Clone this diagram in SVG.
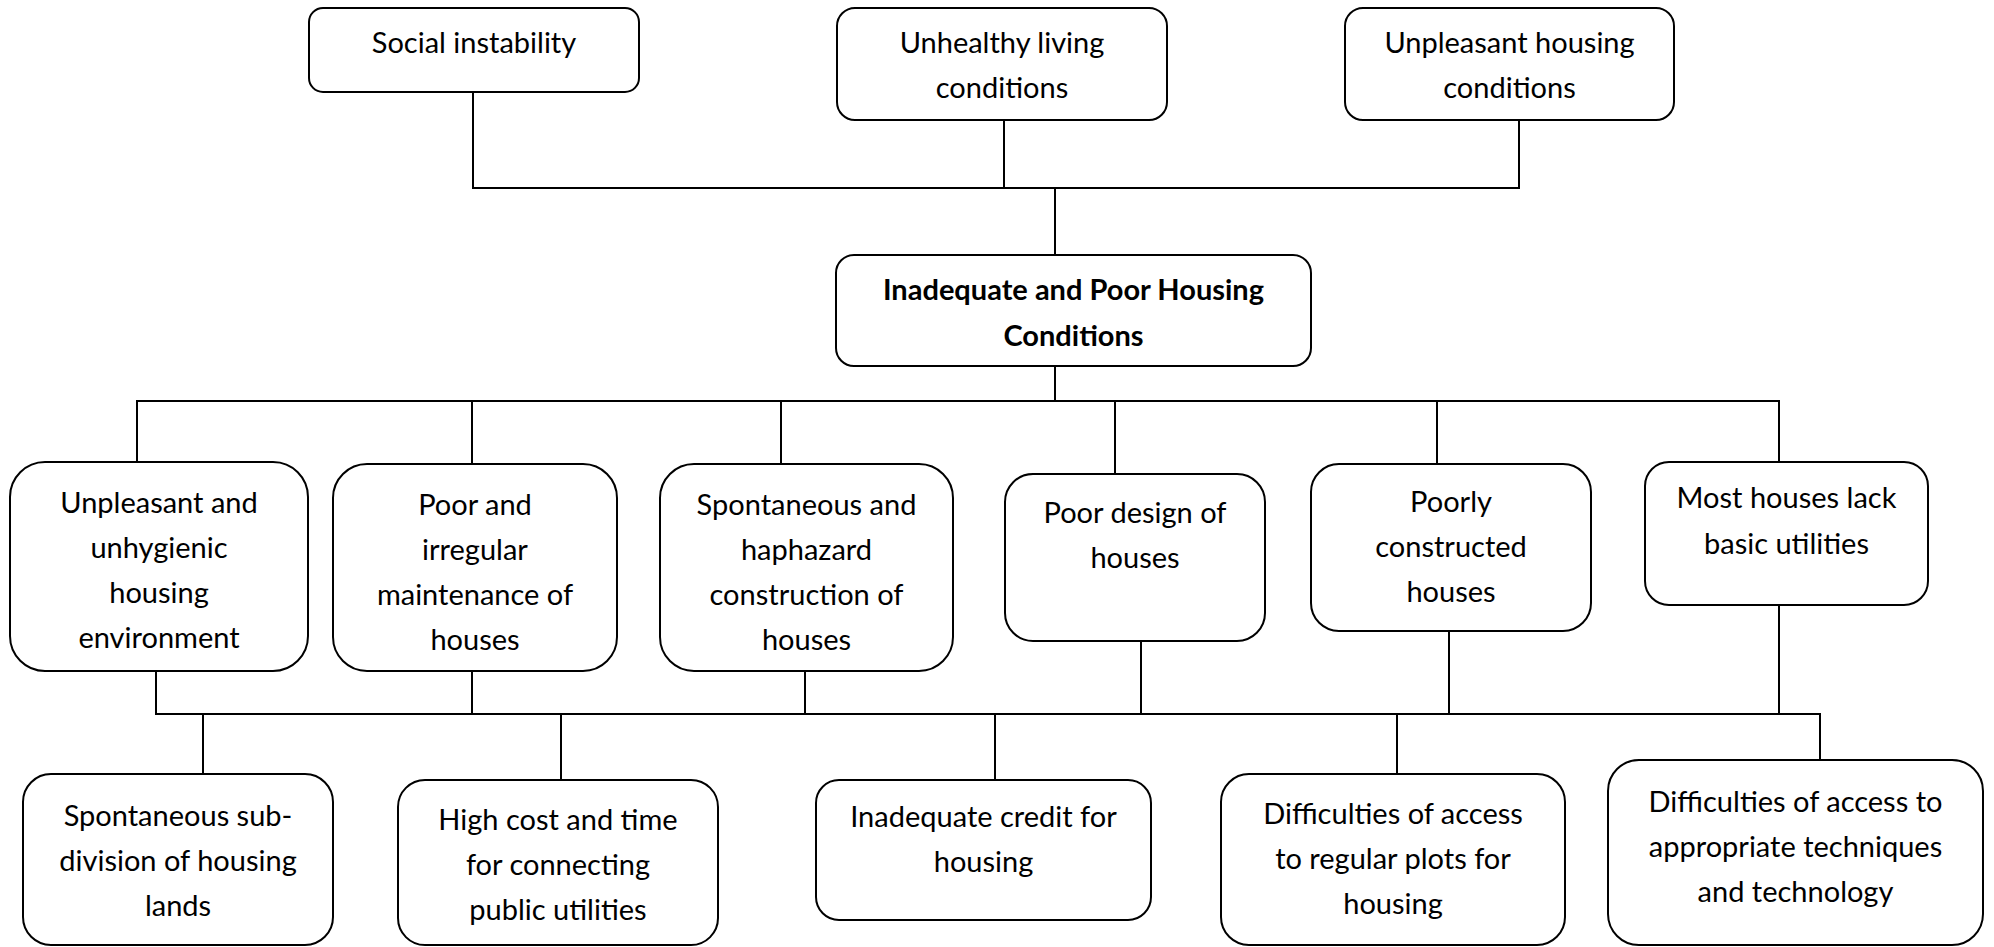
<svg xmlns="http://www.w3.org/2000/svg" width="1994" height="947" viewBox="0 0 1994 947">
<style>
.box{fill:#fff;stroke:#000;stroke-width:2}
.t{font-family:Lato,"Liberation Sans",sans-serif;font-size:29px;fill:#000;text-anchor:middle}
.b{font-weight:bold}
.c line{stroke:#000;stroke-width:2}
</style>
<rect width="1994" height="947" fill="#fff"/>
<g class="c" id="connectors">
<line x1="473" y1="92" x2="473" y2="188"/>
<line x1="1004" y1="120" x2="1004" y2="188"/>
<line x1="1519" y1="120" x2="1519" y2="188"/>
<line x1="472" y1="188" x2="1520" y2="188"/>
<line x1="1055" y1="188" x2="1055" y2="255"/>
<line x1="1055" y1="366" x2="1055" y2="401"/>
<line x1="136" y1="401" x2="1780" y2="401"/>
<line x1="137" y1="401" x2="137" y2="462"/>
<line x1="472" y1="401" x2="472" y2="464"/>
<line x1="781" y1="401" x2="781" y2="464"/>
<line x1="1115" y1="401" x2="1115" y2="474"/>
<line x1="1437" y1="401" x2="1437" y2="464"/>
<line x1="1779" y1="401" x2="1779" y2="462"/>
<line x1="156" y1="671" x2="156" y2="714"/>
<line x1="472" y1="671" x2="472" y2="714"/>
<line x1="805" y1="671" x2="805" y2="714"/>
<line x1="1141" y1="641" x2="1141" y2="714"/>
<line x1="1449" y1="631" x2="1449" y2="714"/>
<line x1="1779" y1="605" x2="1779" y2="714"/>
<line x1="155" y1="714" x2="1821" y2="714"/>
<line x1="203" y1="714" x2="203" y2="774"/>
<line x1="561" y1="714" x2="561" y2="780"/>
<line x1="995" y1="714" x2="995" y2="780"/>
<line x1="1397" y1="714" x2="1397" y2="774"/>
<line x1="1820" y1="714" x2="1820" y2="760"/>
</g>
<g id="social">
<rect class="box" x="309" y="8" width="330" height="84" rx="14"/>
<text class="t" x="474" y="53">Social instability</text>
</g>
<g id="unhealthy">
<rect class="box" x="837" y="8" width="330" height="112" rx="18"/>
<text class="t" x="1002" y="53">Unhealthy living</text>
<text class="t" x="1002" y="98">conditions</text>
</g>
<g id="unpleasant">
<rect class="box" x="1345" y="8" width="329" height="112" rx="18"/>
<text class="t" x="1509.5" y="53">Unpleasant housing</text>
<text class="t" x="1509.5" y="98">conditions</text>
</g>
<g id="central">
<rect class="box" x="836" y="255" width="475" height="111" rx="18"/>
<text class="t b" x="1073.5" y="300">Inadequate and Poor Housing</text>
<text class="t b" x="1073.5" y="346">Conditions</text>
</g>
<g id="n1">
<rect class="box" x="10" y="462" width="298" height="209" rx="35"/>
<text class="t" x="159" y="513">Unpleasant and</text>
<text class="t" x="159" y="558">unhygienic</text>
<text class="t" x="159" y="603">housing</text>
<text class="t" x="159" y="648">environment</text>
</g>
<g id="n2">
<rect class="box" x="333" y="464" width="284" height="207" rx="34"/>
<text class="t" x="475" y="515">Poor and</text>
<text class="t" x="475" y="560">irregular</text>
<text class="t" x="475" y="605">maintenance of</text>
<text class="t" x="475" y="650">houses</text>
</g>
<g id="n3">
<rect class="box" x="660" y="464" width="293" height="207" rx="34"/>
<text class="t" x="806.5" y="515">Spontaneous and</text>
<text class="t" x="806.5" y="560">haphazard</text>
<text class="t" x="806.5" y="605">construction of</text>
<text class="t" x="806.5" y="650">houses</text>
</g>
<g id="n4">
<rect class="box" x="1005" y="474" width="260" height="167" rx="28"/>
<text class="t" x="1135" y="523">Poor design of</text>
<text class="t" x="1135" y="568">houses</text>
</g>
<g id="n5">
<rect class="box" x="1311" y="464" width="280" height="167" rx="28"/>
<text class="t" x="1451" y="512">Poorly</text>
<text class="t" x="1451" y="557">constructed</text>
<text class="t" x="1451" y="602">houses</text>
</g>
<g id="n6">
<rect class="box" x="1645" y="462" width="283" height="143" rx="24"/>
<text class="t" x="1786.5" y="508">Most houses lack</text>
<text class="t" x="1786.5" y="554">basic utilities</text>
</g>
<g id="b1">
<rect class="box" x="23" y="774" width="310" height="171" rx="28"/>
<text class="t" x="178" y="826">Spontaneous sub-</text>
<text class="t" x="178" y="871">division of housing</text>
<text class="t" x="178" y="916">lands</text>
</g>
<g id="b2">
<rect class="box" x="398" y="780" width="320" height="165" rx="27"/>
<text class="t" x="558" y="830">High cost and time</text>
<text class="t" x="558" y="875">for connecting</text>
<text class="t" x="558" y="920">public utilities</text>
</g>
<g id="b3">
<rect class="box" x="816" y="780" width="335" height="140" rx="23"/>
<text class="t" x="983.5" y="827">Inadequate credit for</text>
<text class="t" x="983.5" y="872">housing</text>
</g>
<g id="b4">
<rect class="box" x="1221" y="774" width="344" height="171" rx="28"/>
<text class="t" x="1393" y="824">Difficulties of access</text>
<text class="t" x="1393" y="869">to regular plots for</text>
<text class="t" x="1393" y="914">housing</text>
</g>
<g id="b5">
<rect class="box" x="1608" y="760" width="375" height="185" rx="31"/>
<text class="t" x="1795.5" y="812">Difficulties of access to</text>
<text class="t" x="1795.5" y="857">appropriate techniques</text>
<text class="t" x="1795.5" y="902">and technology</text>
</g>
</svg>
